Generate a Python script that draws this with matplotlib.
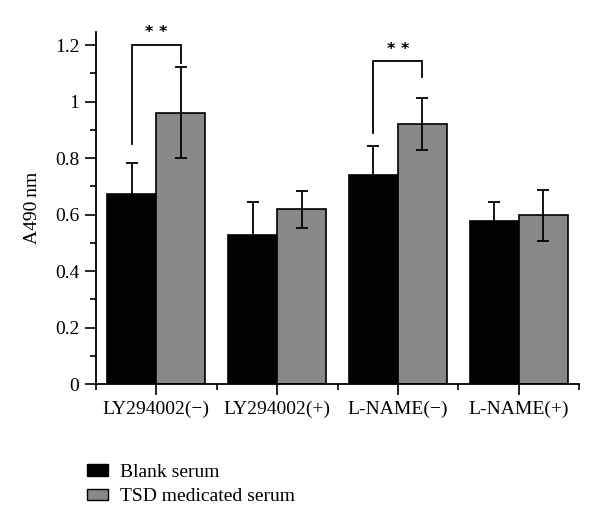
import numpy as np
import matplotlib
matplotlib.use("Agg")
import matplotlib.pyplot as plt
from matplotlib.ticker import MultipleLocator, FixedLocator
from matplotlib.patches import Patch

plt.rcParams['font.family'] = ['Liberation Serif', 'DejaVu Serif']

# data
categories = ['LY294002(\u2212)', 'LY294002(+)', 'L-NAME(\u2212)', 'L-NAME(+)']
blank_mean = [0.672, 0.526, 0.739, 0.577]
blank_err = [0.111, 0.118, 0.104, 0.067]
tsd_mean = [0.961, 0.619, 0.921, 0.597]
tsd_err = [0.161, 0.066, 0.091, 0.089]
series_labels = ['Blank serum', 'TSD medicated serum']

# significance brackets: (group index, top, left leg bottom, right leg bottom)
brackets = [(0, 1.201, 0.85, 1.137), (2, 1.144, 0.89, 1.088)]
sig_text = '* *'

fig = plt.figure(figsize=(6.0, 5.27), dpi=100)
ax = fig.add_axes([0.16, 0.2713, 0.805, 0.6685])

x = np.arange(1, len(categories) + 1)
w = 0.405
err_kw = dict(ecolor='black', elinewidth=1.3, capsize=4.5, capthick=1.3)

ax.bar(x - w / 2, blank_mean, w, yerr=blank_err, color='black',
       edgecolor='black', linewidth=1.2, error_kw=err_kw, label=series_labels[0])
ax.bar(x + w / 2, tsd_mean, w, yerr=tsd_err, color='#888888',
       edgecolor='black', linewidth=1.2, error_kw=err_kw, label=series_labels[1])

for gi, top, lb, rb in brackets:
    xl = x[gi] - w / 2
    xr = x[gi] + w / 2
    ax.plot([xl, xl, xr, xr], [lb, top, top, rb], color='black', lw=1.3,
            solid_joinstyle='miter')
    ax.text((xl + xr) / 2, top + 0.015, sig_text, ha='center', va='bottom',
            fontsize=11.5, fontfamily='DejaVu Sans', fontweight='bold')

ax.set_xlim(0.5, 4.5)
ax.set_ylim(0, 1.247)
ax.set_xticks(x)
ax.set_xticklabels(categories, fontsize=14)
ax.xaxis.set_minor_locator(FixedLocator([0.5, 1.5, 2.5, 3.5, 4.5]))
ax.yaxis.set_minor_locator(MultipleLocator(0.1))
ax.set_yticks([0, 0.2, 0.4, 0.6, 0.8, 1.0, 1.2])
ax.set_yticklabels(['0', '0.2', '0.4', '0.6', '0.8', '1', '1.2'], fontsize=14)
ax.tick_params(which='major', direction='out', length=8, width=1.2, pad=4)
ax.tick_params(which='minor', direction='out', length=4.5, width=1.2)

ax.spines['top'].set_visible(False)
ax.spines['right'].set_visible(False)
ax.spines['left'].set_linewidth(1.3)
ax.spines['bottom'].set_linewidth(1.3)

ax.set_ylabel('A490\u2009nm', fontsize=14, labelpad=10)

handles = [Patch(facecolor='black', edgecolor='black', label=series_labels[0]),
           Patch(facecolor='#888888', edgecolor='black', label=series_labels[1])]
fig.legend(handles=handles, loc='upper left', bbox_to_anchor=(0.132, 0.135),
           frameon=False, fontsize=14, handlelength=1.1, handleheight=0.55,
           handletextpad=0.6, labelspacing=0.4, borderaxespad=0)

fig.savefig('out.png', dpi=100)
